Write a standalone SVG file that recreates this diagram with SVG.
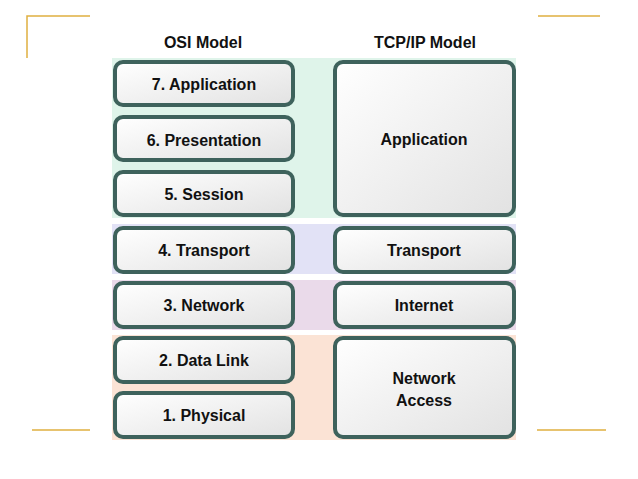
<svg xmlns="http://www.w3.org/2000/svg" width="638" height="479" viewBox="0 0 638 479">
<style>
.b{stroke:#3e625c;stroke-width:4;fill:url(#g)}
.t{font-family:"Liberation Sans",Arial,sans-serif;font-weight:bold;font-size:16px;fill:#111;text-anchor:middle}
.f{stroke:#e0b040;stroke-width:1.5;fill:none}
</style>
<defs><linearGradient id="g" x1="0" y1="0" x2="1" y2="1"><stop offset="0" stop-color="#ffffff"/><stop offset="1" stop-color="#e2e2e2"/></linearGradient></defs>
<rect width="638" height="479" fill="#fff"/>
<path class="f" d="M27 58V16H90M538 16H600M32 430H90M537 430H606"/>
<rect x="112" y="58" width="404" height="160" fill="#dff4ea"/>
<rect x="112" y="224" width="404" height="50" fill="#e2e2f6"/>
<rect x="112" y="280" width="404" height="50" fill="#eadaea"/>
<rect x="112" y="335" width="404" height="105" fill="#fbe3d5"/>
<text class="t" x="203" y="48">OSI Model</text>
<text class="t" x="425" y="48">TCP/IP Model</text>
<g id="osi7"><rect class="b" x="115" y="62" width="178" height="43" rx="8"/><text class="t" x="204" y="90">7. Application</text></g>
<g id="osi6"><rect class="b" x="115" y="117" width="178" height="43" rx="8"/><text class="t" x="204" y="146">6. Presentation</text></g>
<g id="osi5"><rect class="b" x="115" y="172" width="178" height="43" rx="8"/><text class="t" x="204" y="200">5. Session</text></g>
<g id="osi4"><rect class="b" x="115" y="228" width="178" height="44" rx="8"/><text class="t" x="204" y="256">4. Transport</text></g>
<g id="osi3"><rect class="b" x="115" y="283" width="178" height="44" rx="8"/><text class="t" x="204" y="311">3. Network</text></g>
<g id="osi2"><rect class="b" x="115" y="338" width="178" height="44" rx="8"/><text class="t" x="204" y="366">2. Data Link</text></g>
<g id="osi1"><rect class="b" x="115" y="393" width="178" height="44" rx="8"/><text class="t" x="204" y="421">1. Physical</text></g>
<g id="tcp4"><rect class="b" x="335" y="62" width="179" height="153" rx="8"/><text class="t" x="424" y="145">Application</text></g>
<g id="tcp3"><rect class="b" x="335" y="228" width="179" height="44" rx="8"/><text class="t" x="424" y="256">Transport</text></g>
<g id="tcp2"><rect class="b" x="335" y="283" width="179" height="44" rx="8"/><text class="t" x="424" y="311">Internet</text></g>
<g id="tcp1"><rect class="b" x="335" y="338" width="179" height="99" rx="8"/><text class="t" x="424" y="384">Network</text><text class="t" x="424" y="406">Access</text></g>
<g id="connectors"/>
</svg>
